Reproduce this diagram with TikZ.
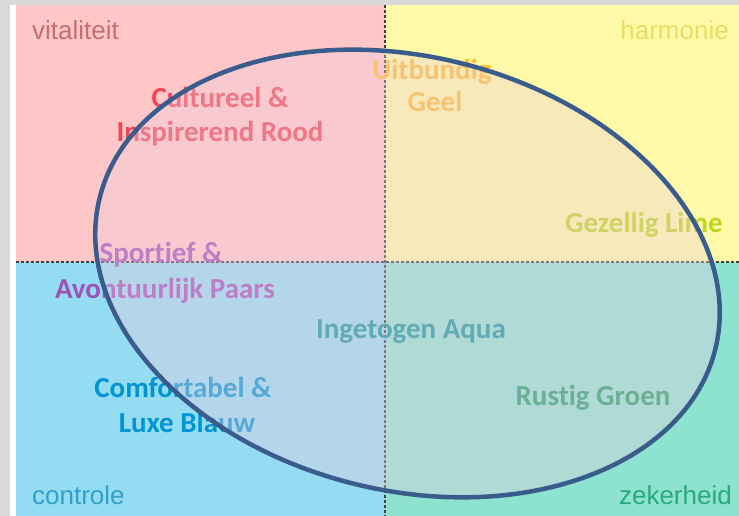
\documentclass[tikz,border=0pt]{standalone}
\usepackage{fontspec}
\setmainfont{Carlito}[Ligatures={NoCommon}]
\newfontfamily\cornerfont{Liberation Sans}
\definecolor{bggrey}{RGB}{217,217,217}
\definecolor{qpink}{RGB}{255,199,199}
\definecolor{qyellow}{RGB}{255,249,168}
\definecolor{qblue}{RGB}{147,220,242}
\definecolor{qteal}{RGB}{141,226,208}
\definecolor{ellfill}{RGB}{238,206,222}
\definecolor{ellline}{RGB}{58,92,140}
\definecolor{crood}{RGB}{240,70,85}
\definecolor{cgeel}{RGB}{255,190,50}
\definecolor{clime}{RGB}{190,215,30}
\definecolor{cpaars}{RGB}{160,80,185}
\definecolor{caqua}{RGB}{15,150,160}
\definecolor{cblauw}{RGB}{0,148,210}
\definecolor{cgroen}{RGB}{30,160,105}
\definecolor{tvital}{RGB}{196,110,110}
\definecolor{tharm}{RGB}{226,226,100}
\definecolor{tcontr}{RGB}{50,160,200}
\definecolor{tzeker}{RGB}{40,170,125}
\tikzset{
  divider/.style={line width=2.2pt, black!75, dash pattern=on 3pt off 2pt},
  lbl/.style={anchor=base, inner sep=0pt, font=\fontsize{29}{34}\selectfont\bfseries},
  corner/.style={anchor=base, inner sep=0pt, font=\cornerfont\fontsize{26}{30}\selectfont},
}
\begin{document}
\begin{tikzpicture}[x=1pt,y=-1pt]
\useasboundingbox (0,0) rectangle (739,516);
\fill[bggrey] (0,0) rectangle (739,516);
\fill[white] (10,5) rectangle (16,516);
\fill[qpink] (16,5) rectangle (385,262);
\fill[qyellow] (385,5) rectangle (739,262);
\fill[qblue] (16,262) rectangle (385,516);
\fill[qteal] (385,262) rectangle (739,516);
\draw[divider] (385,5) -- (385,516);
\draw[divider] (16,262) -- (739,262);
% corner labels
\node[corner, anchor=base west, text=tvital] (vital) at (32,40) {vitaliteit};
\node[corner, anchor=base east, text=tharm] (harm) at (729,40) {harmonie};
\node[corner, anchor=base west, text=tcontr] (contr) at (32,504) {controle};
\node[corner, anchor=base east, text=tzeker] (zeker) at (732,504) {zekerheid};
% colour labels
\node[lbl, text=crood] (rood1) at (220,108) {Cultureel \&};
\node[lbl, text=crood] (rood2) at (220,142) {Inspirerend Rood};
\node[lbl, text=cgeel] (geel1) at (432,80) {Uitbundig};
\node[lbl, text=cgeel] (geel2) at (435,112) {Geel};
\node[lbl, text=clime] (lime) at (644,232) {Gezellig Lime};
\node[lbl, text=cpaars] (paars1) at (161,262) {Sportief \&};
\node[lbl, text=cpaars] (paars2) at (165,298) {Avontuurlijk Paars};
\node[lbl, text=caqua] (aqua) at (411,338) {Ingetogen Aqua};
\node[lbl, text=cblauw] (blauw1) at (183,397) {Comfortabel \&};
\node[lbl, text=cblauw] (blauw2) at (187,432) {Luxe Blauw};
\node[lbl, text=cgroen] (groen) at (593,405) {Rustig Groen};
% ellipse
\coordinate (ec) at (407.5,273.5);
\fill[ellfill, fill opacity=0.37, rotate around={-13.7:(ec)}] (ec) ellipse [x radius=317pt, y radius=217pt];
\draw[ellline, line width=4.5pt, rotate around={-13.7:(ec)}] (ec) ellipse [x radius=317pt, y radius=217pt];
\end{tikzpicture}
\end{document}
